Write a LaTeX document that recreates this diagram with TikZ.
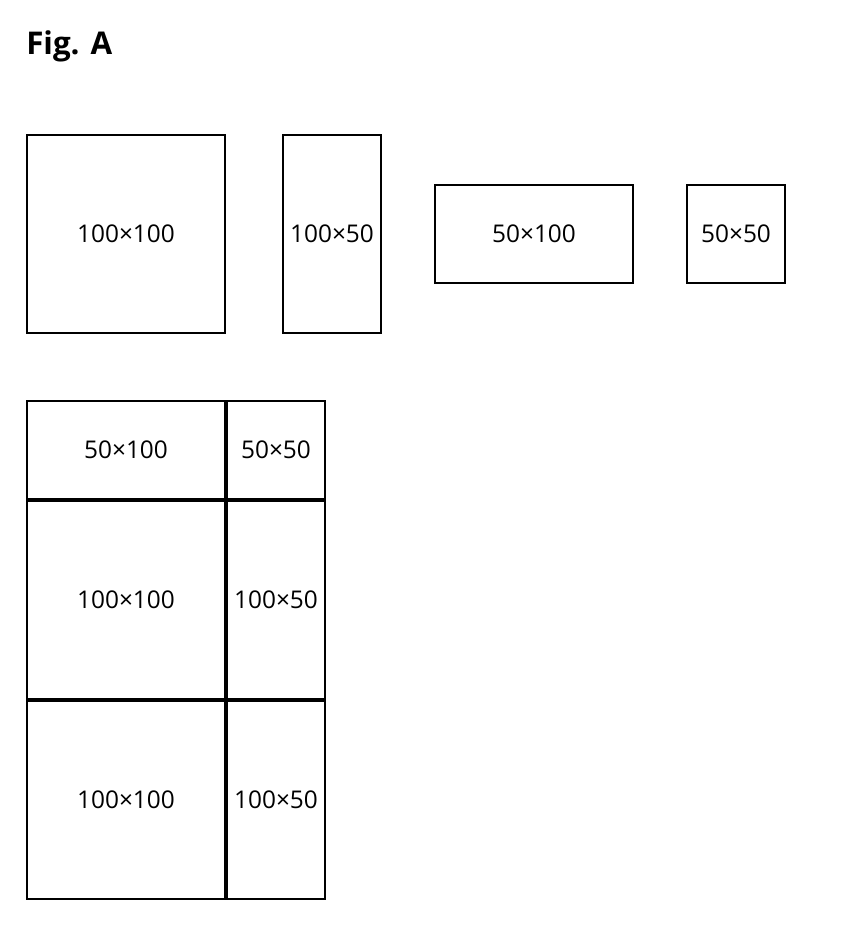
\documentclass[tikz,border=0pt]{standalone}
\usepackage{fontspec}
\setmainfont{Open Sans}
\tikzset{
  tile/.style 2 args={draw, line width=1.5pt, inner sep=0pt,
    minimum height={#1*1.5pt-1.5pt}, minimum width={#2*1.5pt-1.5pt},
    font=\fontsize{18.3pt}{21pt}\selectfont},
}
\begin{document}
\begin{tikzpicture}[x=0.75pt, y=-0.75pt]
  \fill[white] (0,0) rectangle (850,944);
  \node[anchor=base west, inner sep=0pt, font=\fontsize{23.5pt}{27pt}\selectfont\bfseries] (title) at (26,55) {Fig. A};
  % single tiles
  \node[tile={100}{100}] (sq) at (126,234) {100×100};
  \node[tile={100}{50}] (tall) at (332,234) {100×50};
  \node[tile={50}{100}] (wide) at (534,234) {50×100};
  \node[tile={50}{50}] (small) at (736,234) {50×50};
  % packed tiles
  \node[tile={50}{100}] (wideA) at (126,450) {50×100};
  \node[tile={50}{50}] (smallA) at (276,450) {50×50};
  \node[tile={100}{100}] (sqA) at (126,600) {100×100};
  \node[tile={100}{50}] (tallA) at (276,600) {100×50};
  \node[tile={100}{100}] (sqB) at (126,800) {100×100};
  \node[tile={100}{50}] (tallB) at (276,800) {100×50};
\end{tikzpicture}
\end{document}
